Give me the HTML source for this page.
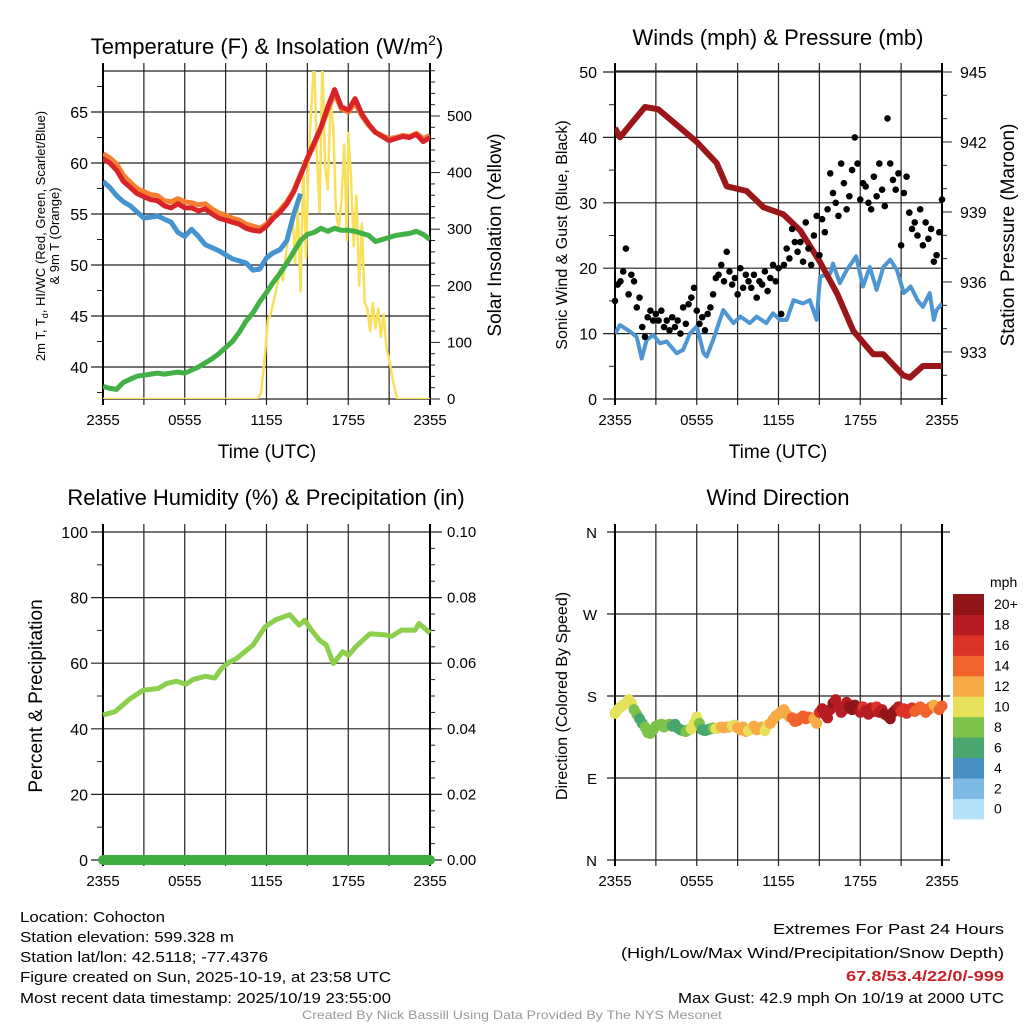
<!DOCTYPE html>
<html><head><meta charset="utf-8"><style>
html,body{margin:0;padding:0;background:#fff;}
svg{display:block;font-family:"Liberation Sans",Arial,sans-serif;}
</style></head><body>
<svg id="fig" width="1024" height="1024" viewBox="0 0 1024 1024" xmlns="http://www.w3.org/2000/svg">
<defs>
<clipPath id="c1"><rect x="103" y="71" width="327" height="328"/></clipPath>
<clipPath id="c2"><rect x="615" y="71" width="327" height="328"/></clipPath>
<clipPath id="c3"><rect x="97" y="526" width="339" height="340"/></clipPath>
<clipPath id="c4"><rect x="609" y="526" width="339" height="340"/></clipPath>
</defs>
<rect width="1024" height="1024" fill="#fff"/>
<g id="g1"></g>
<g id="g2"></g>
<g id="g3"></g>
<g id="g4"></g>

<text x="267" y="54" font-size="22" text-anchor="middle">Temperature (F) &amp; Insolation (W/m<tspan font-size="14" dy="-9">2</tspan><tspan dy="9">)</tspan></text>
<text x="778" y="45" font-size="22" text-anchor="middle">Winds (mph) &amp; Pressure (mb)</text>
<text x="266" y="505" font-size="22" text-anchor="middle">Relative Humidity (%) &amp; Precipitation (in)</text>
<text x="778" y="505" font-size="22" text-anchor="middle">Wind Direction</text>

<text transform="translate(45,236) rotate(-90)" font-size="13" text-anchor="middle">2m T, T<tspan font-size="9" dy="3">d</tspan><tspan dy="-3">, HI/WC (Red, Green, Scarlet/Blue)</tspan></text>
<text transform="translate(59,236) rotate(-90)" font-size="13" text-anchor="middle">&amp; 9m T (Orange)</text>
<text transform="translate(501,235) rotate(-90)" font-size="19" text-anchor="middle">Solar Insolation (Yellow)</text>
<text transform="translate(567,235) rotate(-90)" font-size="16" text-anchor="middle">Sonic Wind &amp; Gust (Blue, Black)</text>
<text transform="translate(1014,235) rotate(-90)" font-size="19" text-anchor="middle">Station Pressure (Maroon)</text>
<text transform="translate(42,696) rotate(-90)" font-size="19" text-anchor="middle">Percent &amp; Precipitation</text>
<text transform="translate(567,696) rotate(-90)" font-size="16" text-anchor="middle">Direction (Colored By Speed)</text>
<text x="267" y="458" font-size="19" text-anchor="middle">Time (UTC)</text>
<text x="778" y="458" font-size="19" text-anchor="middle">Time (UTC)</text>

<g font-size="15">
<text x="20" y="922" textLength="145" lengthAdjust="spacingAndGlyphs">Location: Cohocton</text>
<text x="20" y="942" textLength="214" lengthAdjust="spacingAndGlyphs">Station elevation: 599.328 m</text>
<text x="20" y="962" textLength="248" lengthAdjust="spacingAndGlyphs">Station lat/lon: 42.5118; -77.4376</text>
<text x="20" y="982" textLength="371" lengthAdjust="spacingAndGlyphs">Figure created on Sun, 2025-10-19, at 23:58 UTC</text>
<text x="20" y="1003" textLength="371" lengthAdjust="spacingAndGlyphs">Most recent data timestamp: 2025/10/19 23:55:00</text>
</g>
<g font-size="15">
<text x="773" y="934" textLength="231" lengthAdjust="spacingAndGlyphs">Extremes For Past 24 Hours</text>
<text x="621" y="958" textLength="383" lengthAdjust="spacingAndGlyphs">(High/Low/Max Wind/Precipitation/Snow Depth)</text>
<text x="846" y="981" textLength="158" lengthAdjust="spacingAndGlyphs" fill="#c8202a" font-weight="bold">67.8/53.4/22/0/-999</text>
<text x="678" y="1003" textLength="326" lengthAdjust="spacingAndGlyphs">Max Gust: 42.9 mph On 10/19 at 2000 UTC</text>
</g>
<text x="512" y="1019" font-size="12" fill="#999" text-anchor="middle" textLength="420" lengthAdjust="spacingAndGlyphs">Created By Nick Bassill Using Data Provided By The NYS Mesonet</text>
</svg>
<script>
// ---------- data ----------
const xTickLabels = ["2355","0555","1155","1755","2355"];
const halfHours = [0,0.5,1,1.5,2,2.5,3,3.5,4,4.5,5,5.5,6,6.5,7,7.5,8,8.5,9,9.5,10,10.5,11,11.5,12,12.5,13,13.5,14,14.5,15,15.5,16,16.5,17,17.5,18,18.5,19,19.5,20,20.5,21,21.5,22,22.5,23,23.5,24];
const tempRed = [60.4,60.0,59.3,58.2,57.6,57.0,56.7,56.4,56.3,55.8,55.6,56.0,55.6,55.6,55.3,55.5,55.0,54.6,54.4,54.2,54.0,53.6,53.4,53.3,53.8,54.6,55.2,56.0,57.2,58.8,60.5,62.0,63.5,65.5,67.2,65.5,65.2,66.3,64.8,63.8,63.0,62.6,62.2,62.4,62.6,62.5,62.8,62.1,62.5];
const temp9mOrange = [60.9,60.5,59.9,58.8,58.1,57.5,57.2,56.9,56.8,56.3,56.2,56.5,56.2,56.1,55.9,56.0,55.5,55.1,54.9,54.6,54.4,54.0,53.8,53.6,54.0,54.8,55.4,56.2,57.3,58.9,60.4,61.8,63.4,65.2,66.8,65.3,65.0,65.9,64.6,63.7,63.0,62.7,62.4,62.5,62.7,62.6,62.9,62.4,62.7];
const windChillBlue = [58.2,57.6,56.8,56.2,55.8,55.2,54.6,54.7,54.8,54.5,54.2,53.2,52.8,53.5,52.8,52.0,51.7,51.4,51.0,50.6,50.4,50.2,49.5,49.6,50.7,51.2,51.5,52.4,55.0,57.0];
const dewpointGreen = [38.1,37.9,37.8,38.5,38.8,39.1,39.2,39.3,39.4,39.3,39.4,39.5,39.4,39.7,40.0,40.4,40.8,41.3,41.9,42.5,43.4,44.5,45.3,46.4,47.3,48.3,49.2,50.2,51.3,52.4,53.0,53.2,53.6,53.3,53.6,53.4,53.4,53.3,53.1,52.9,52.3,52.5,52.7,52.9,53.0,53.1,53.3,53.0,52.5];
const solarTimes = [0,11.3,11.6,11.9,12.1,12.3,12.5,12.7,13.0,13.2,13.5,13.7,13.9,14.1,14.3,14.5,14.7,14.9,15.1,15.3,15.5,15.7,15.9,16.1,16.3,16.5,16.7,16.9,17.1,17.3,17.5,17.7,17.9,18.0,18.2,18.4,18.6,18.8,19.0,19.2,19.4,19.6,19.8,20.0,20.2,20.4,20.6,20.8,21.0,21.3,21.6,24];
const solarValues = [0,0,10,80,140,150,170,190,230,210,270,300,330,240,340,190,420,250,430,520,600,430,330,600,410,370,530,480,330,300,350,450,280,470,390,270,360,200,310,170,160,120,170,125,160,110,150,90,70,30,0,0];
const tempTicks = [40,45,50,55,60,65];
const solarTicks = [0,100,200,300,400,500];

const pressTimes = [0,0.37,1.35,2.2,3.18,5.0,6.0,7.46,8.2,9.66,10.9,12.35,13.6,15.0,16.3,17.5,18.96,19.7,21.15,21.65,22.6,24];
const pressValues = [942.6,942.2,942.9,943.5,943.4,942.5,942.0,941.1,940.1,939.9,939.2,938.9,938.2,936.9,935.5,933.9,932.9,932.9,932.0,931.9,932.4,932.4];
const windTimes = [0,0.37,1.1,1.59,1.96,2.32,2.81,3.3,3.79,4.53,5.0,5.5,6.0,6.5,6.73,7.2,7.7,7.95,8.7,9.2,9.9,10.4,11.1,11.6,12.1,12.6,13.1,13.8,14.3,14.8,15.05,15.8,16.0,16.5,17.0,17.7,18.2,18.7,19.2,19.7,20.2,20.7,21.2,21.7,22.2,22.6,23.1,23.4,23.6,24];
const windValues = [10.0,11.3,10.3,9.5,6.2,9.0,9.8,8.5,8.8,7.0,7.5,10.0,11.1,7.0,6.5,9.0,12.1,13.6,11.6,12.6,11.6,12.6,11.6,13.1,12.1,12.1,15.1,14.6,15.1,12.1,18.7,19.2,20.7,17.7,19.7,21.8,17.2,20.2,16.7,20.2,21.3,19.7,16.2,17.2,15.1,14.1,16.2,12.1,13.6,14.6];
const gustValues = [15,17.5,18,19.5,23,16,19,18,14,15.5,11,9.5,12.5,13.5,12,13,12,13.5,11,12,10.5,12.5,11,12,10,14,11.5,14.5,15.5,17,13.5,11.5,12.5,10.5,13,14,16,18.5,19,20.5,18,22.5,19.5,17.5,18.5,16,20,17,19,18,17,19,15.5,18,17.5,19.5,16.5,18.5,20.5,18,20,13,20.5,23,21.5,26,24,22.5,24,21,27,23,20.5,25,28,22,27.5,25.5,29,34.5,31.5,30,28,36,33,29,31,35,40,36,30.5,33,32.5,30,29,34,31,36,32,29.5,42.9,36,33.5,32,34.5,23.5,31.5,34,28.5,26,27,25,29,23.5,27,24.5,26,21,22,25.5,30.5];
const windTicks = [0,10,20,30,40,50];
const pressTicks = [933,936,939,942,945];

const rhTimes = [0,0.88,2.0,2.96,4.06,4.67,5.4,6.1,6.6,7.5,8.2,8.7,9.3,9.8,11.0,11.9,12.7,13.7,14.4,14.8,15.3,15.9,16.4,16.9,17.6,18.0,18.6,19.6,20.6,21.2,21.9,22.9,23.2,24];
const rhValues = [44.2,45.2,49.2,51.8,52.3,53.8,54.5,53.6,55.0,56.0,55.5,58.4,60.4,61.4,65.5,71.1,73.3,74.8,71.6,73.1,70.1,67.0,65.5,59.9,63.5,62.4,65.2,69.0,68.7,68.2,70.1,70.1,72.1,69.2];
const precipValues = [0,0];
const rhTicks = [0,20,40,60,80,100];
const precipTickLabels = ["0.00","0.02","0.04","0.06","0.08","0.10"];

const dirValues = [161,165,168,170,172,176,172,165,160,155,150,146,140,139,143,147,148,149,146,148,149,147,149,145,143,142,141,143,144,150,157,150,143,142,143,144,145,144,145,146,145,146,146,147,148,145,143,146,141,142,144,147,143,144,146,142,148,150,154,158,160,163,165,160,157,156,152,153,156,158,155,157,156,155,150,162,166,160,156,165,172,176,168,162,165,173,168,165,170,167,162,168,164,160,167,163,168,162,165,160,158,155,162,165,168,163,166,161,165,167,163,165,168,166,162,165,168,170,167,165,169];
const dirTickLabels = ["N","E","S","W","N"];
const speedBinLabels = ["0","2","4","6","8","10","12","14","16","18","20+"];
const speedColors = ["#b3e1f7","#7db9e3","#4790c6","#48a66f","#7dc24b","#e6e15a","#f7aa46","#f0632d","#dc3228","#b81c23","#8f1519"];

// ---------- helpers ----------
const NS="http://www.w3.org/2000/svg";
function mk(parent,tag,attrs){const e=document.createElementNS(NS,tag);for(const k in attrs)e.setAttribute(k,attrs[k]);parent.appendChild(e);return e;}
function txt(parent,x,y,s,anchor,size){const t=mk(parent,'text',{x:x,y:y,'font-size':size||14,'text-anchor':anchor||'middle'});t.textContent=s;return t;}
function pathD(ts,vs,xs,ys){let d='';const n=Math.min(ts.length,vs.length);for(let i=0;i<n;i++){if(vs[i]==null)continue;d+=(d?'L':'M')+xs(ts[i]).toFixed(1)+','+ys(vs[i]).toFixed(1);}return d;}
function interp(ts,vs,t){if(t<=ts[0])return vs[0];for(let i=1;i<ts.length;i++){if(t<=ts[i]){const f=(t-ts[i-1])/(ts[i]-ts[i-1]);return vs[i-1]+f*(vs[i]-vs[i-1]);}}return vs[vs.length-1];}

function frame(g,L,T,W,H){
  const grid=mk(g,'g',{});
  
  
  for(let i=0;i<=8;i++){const x=L+W*i/8;mk(grid,'line',{x1:x,x2:x,y1:T-8,y2:T+H+6,stroke:'#222','stroke-width':1.2});}
  for(let i=0;i<5;i++){const x=L+W*i/4;const t=txt(g,x,T+H+26,xTickLabels[i],'middle',15);
    
    }
  return grid;
}
function hline(g,L,W,y,extL,extR){mk(g,'line',{x1:L-extL,x2:L+W+extR,y1:y,y2:y,stroke:'#222','stroke-width':1.2});}

// ---------- panel 1 ----------
(function(){
  const g=document.getElementById('g1');const L=103,T=71,W=327,H=328;
  const xs=t=>L+t*W/24, yT=v=>112+(65-v)*10.2, yS=v=>399-v*0.566;
  const grid=frame(g,L,T,W,H);
  tempTicks.forEach(v=>{hline(grid,L,W,yT(v),12,0);const t=txt(g,88,yT(v)+6,String(v),'end',16);
    
    });
  for(let v=37.5;v<=67.5;v+=5) mk(grid,'line',{x1:L-6,x2:L,y1:yT(v),y2:yT(v),stroke:'#222'});
  hline(grid,L,W,T,0,0);hline(grid,L,W,T+H,0,0);
  for(let v=0;v<=580;v+=20){const len=v%100===0?10:5;mk(grid,'line',{x1:L+W,x2:L+W+len,y1:yS(v),y2:yS(v),stroke:'#222'});}
  solarTicks.forEach(v=>{const t=txt(g,447,yS(v)+5,String(v),'start',15);
    
    });
  mk(grid,'line',{x1:L,x2:L,y1:T-8,y2:T+H+6,stroke:'#000','stroke-width':2});
  mk(grid,'line',{x1:L+W,x2:L+W,y1:T-8,y2:T+H+6,stroke:'#000','stroke-width':2});
  const cg=mk(g,'g',{'clip-path':'url(#c1)'});
  const sol=mk(cg,'path',{d:pathD(solarTimes,solarValues,xs,yS),fill:'none',stroke:'#f8e05a','stroke-width':2.5,'stroke-linejoin':'round'});
  
  
  const gr=mk(cg,'path',{d:pathD(halfHours,dewpointGreen,xs,yT),fill:'none',stroke:'#43b045','stroke-width':5,'stroke-linejoin':'round'});
  
  
  const bl=mk(cg,'path',{d:pathD(halfHours,windChillBlue,xs,yT),fill:'none',stroke:'#4593cf','stroke-width':5,'stroke-linejoin':'round'});
  
  
  const or=mk(cg,'path',{d:pathD(halfHours,temp9mOrange,xs,yT),fill:'none',stroke:'#f47f30','stroke-width':5,'stroke-linejoin':'round'});
  
  
  const rd=mk(cg,'path',{d:pathD(halfHours,tempRed,xs,yT),fill:'none',stroke:'#d92328','stroke-width':5,'stroke-linejoin':'round'});
  
  
})();

// ---------- panel 2 ----------
(function(){
  const g=document.getElementById('g2');const L=615,T=71,W=327,H=328;
  const xs=t=>L+t*W/24, yW=v=>399-v*6.54, yP=v=>72+(945-v)*23.33;
  const grid=frame(g,L,T,W,H);
  windTicks.forEach(v=>{hline(grid,L,W,yW(v),12,0);const t=txt(g,597,yW(v)+6,String(v),'end',16);
    
    });
  for(let v=5;v<=45;v+=10) mk(grid,'line',{x1:L-6,x2:L,y1:yW(v),y2:yW(v),stroke:'#222'});
  hline(grid,L,W,T,0,0);hline(grid,L,W,T+H,0,0);
  for(let v=931;v<=945;v++){const len=v%3===0?10:5;mk(grid,'line',{x1:L+W,x2:L+W+len,y1:yP(v),y2:yP(v),stroke:'#222'});}
  pressTicks.forEach(v=>{const t=txt(g,960,yP(v)+6,String(v),'start',16);
    
    });
  mk(grid,'line',{x1:L,x2:L,y1:T-8,y2:T+H+6,stroke:'#000','stroke-width':2});
  mk(grid,'line',{x1:L+W,x2:L+W,y1:T-8,y2:T+H+6,stroke:'#000','stroke-width':2});
  const cg=mk(g,'g',{'clip-path':'url(#c2)'});
  const wl=mk(cg,'path',{d:pathD(windTimes,windValues,xs,yW),fill:'none',stroke:'#4d96d2','stroke-width':4,'stroke-linejoin':'round'});
  
  
  const gg=mk(g,'g',{});
  
  
  gustValues.forEach((v,i)=>{const c=mk(gg,'circle',{cx:xs(i*0.2),cy:yW(v),r:3.3,fill:'#000'});
    
    });
  const pl=mk(cg,'path',{d:pathD(pressTimes,pressValues,xs,yP),fill:'none',stroke:'#9b1619','stroke-width':6,'stroke-linejoin':'round'});
  
  
})();

// ---------- panel 3 ----------
(function(){
  const g=document.getElementById('g3');const L=103,T=532,W=327,H=328;
  const xs=t=>L+t*W/24, yR=v=>860-v*3.28, yPr=v=>860-v*3280;
  const grid=frame(g,L,T,W,H);
  rhTicks.forEach((v,i)=>{hline(grid,L,W,yR(v),12,12);const t=txt(g,88,yR(v)+6,String(v),'end',16);
    
    
    const t2=txt(g,447,yR(v)+5,precipTickLabels[i],'start',15);
    
    });
  for(let v=10;v<=90;v+=20) mk(grid,'line',{x1:L-6,x2:L,y1:yR(v),y2:yR(v),stroke:'#222'});
  for(let v=0;v<=0.1001;v+=0.005) mk(grid,'line',{x1:L+W,x2:L+W+5,y1:yPr(v),y2:yPr(v),stroke:'#222'});
  mk(grid,'line',{x1:L,x2:L,y1:T-8,y2:T+H+6,stroke:'#000','stroke-width':2});
  mk(grid,'line',{x1:L+W,x2:L+W,y1:T-8,y2:T+H+6,stroke:'#000','stroke-width':2});
  const cg=mk(g,'g',{'clip-path':'url(#c3)'});
  const pr=mk(cg,'path',{d:pathD([0,24],precipValues,xs,yPr),fill:'none',stroke:'#3fae41','stroke-width':10,'stroke-linecap':'round'});
  
  
  const rl=mk(cg,'path',{d:pathD(rhTimes,rhValues,xs,yR),fill:'none',stroke:'#8ccf4d','stroke-width':5,'stroke-linejoin':'round'});
  
  
})();

// ---------- panel 4 ----------
(function(){
  const g=document.getElementById('g4');const L=615,T=532,W=327,H=328;
  const xs=t=>L+t*W/24, yD=v=>860-v*H/360;
  const grid=frame(g,L,T,W,H);
  dirTickLabels.forEach((s,i)=>{const y=yD(i*90);hline(grid,L,W,y,8,8);const t=txt(g,597,y+6,s,'end',15);
    
    });
  mk(grid,'line',{x1:L,x2:L,y1:T-8,y2:T+H+6,stroke:'#000','stroke-width':2});
  mk(grid,'line',{x1:L+W,x2:L+W,y1:T-8,y2:T+H+6,stroke:'#000','stroke-width':2});
  const dg=mk(g,'g',{'clip-path':'url(#c4)'});
  
  
  dirValues.forEach((v,i)=>{const t=i*0.2;const sp=interp(windTimes,windValues,t);
    const bin=Math.max(0,Math.min(10,Math.floor(sp/2)));
    const c=mk(dg,'circle',{cx:xs(t),cy:yD(v),r:5.5,fill:speedColors[bin]});
    
    });
  const cb=mk(g,'g',{});
  
  
  const top=594,bh=20.45;
  speedBinLabels.forEach((s,i)=>{const y=top+(10-i)*bh;
    const r=mk(cb,'rect',{x:953,y:y,width:31,height:bh+0.5,fill:speedColors[i]});
    
    
    const t=txt(cb,994,y+bh/2+5,s,'start',14);
    
    });
  const u=txt(cb,990,587,'mph','start',14);
  
  
})();
</script>
</body></html>
